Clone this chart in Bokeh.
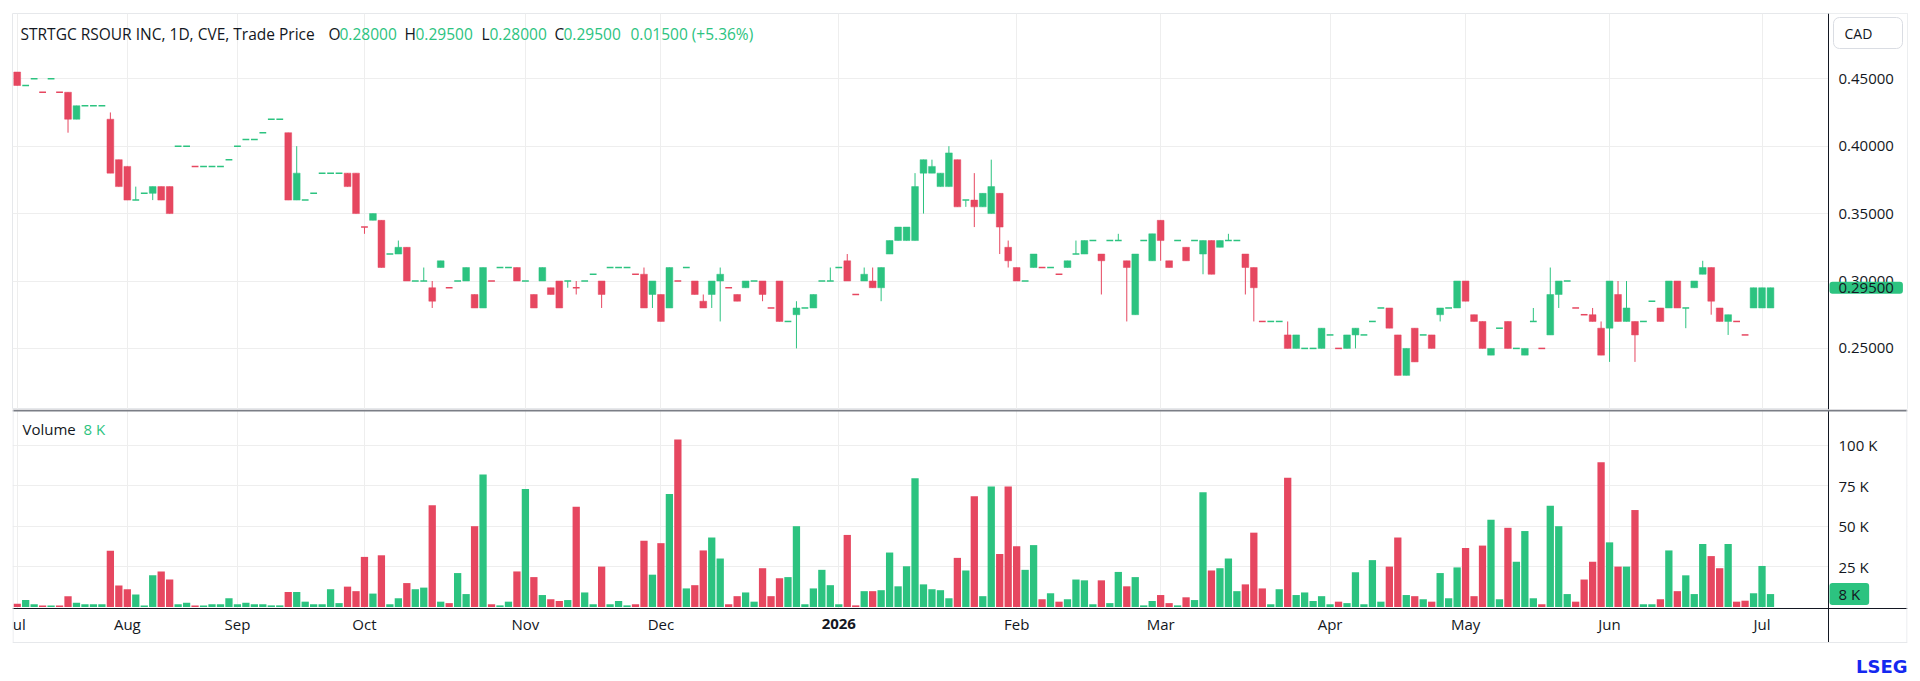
from bokeh.plotting import figure
from bokeh.layouts import column
from bokeh.models import (ColumnDataSource, FixedTicker, NumeralTickFormatter, Label,
                          Range1d, BoxAnnotation, LinearAxis)
from bokeh.embed import file_html
from bokeh.resources import INLINE

# ---------------- data ----------------
opens = [0.455, 0.445, 0.45, 0.44, 0.45, 0.44, 0.44, 0.42, 0.43, 0.43,
         0.43, 0.42, 0.39, 0.385, 0.36, 0.365, 0.365, 0.37, 0.37, 0.40,
         0.40, 0.385, 0.385, 0.385, 0.385, 0.39, 0.40, 0.405, 0.405, 0.41,
         0.42, 0.42, 0.41, 0.36, 0.36, 0.365, 0.38, 0.38, 0.38, 0.38,
         0.38, 0.34, 0.345, 0.345, 0.32, 0.32, 0.325, 0.30, 0.30, 0.295,
         0.31, 0.295, 0.30, 0.30, 0.29, 0.28, 0.30, 0.31, 0.31, 0.31,
         0.30, 0.29, 0.30, 0.295, 0.30, 0.30, 0.295, 0.30, 0.305, 0.30,
         0.31, 0.31, 0.31, 0.305, 0.305, 0.29, 0.29, 0.28, 0.30, 0.31,
         0.30, 0.285, 0.29, 0.30, 0.295, 0.29, 0.295, 0.30, 0.30, 0.28,
         0.30, 0.27, 0.275, 0.28, 0.28, 0.30, 0.30, 0.31, 0.315, 0.29,
         0.30, 0.30, 0.295, 0.32, 0.33, 0.33, 0.33, 0.38, 0.38, 0.37,
         0.37, 0.39, 0.36, 0.36, 0.355, 0.35, 0.365, 0.325, 0.31, 0.30,
         0.31, 0.31, 0.31, 0.305, 0.31, 0.32, 0.32, 0.33, 0.32, 0.33,
         0.33, 0.315, 0.275, 0.33, 0.315, 0.345, 0.315, 0.33, 0.325, 0.33,
         0.32, 0.33, 0.325, 0.33, 0.33, 0.32, 0.31, 0.27, 0.27, 0.27,
         0.26, 0.25, 0.25, 0.25, 0.25, 0.26, 0.25, 0.25, 0.26, 0.26,
         0.27, 0.28, 0.28, 0.26, 0.23, 0.265, 0.26, 0.26, 0.275, 0.28,
         0.28, 0.30, 0.275, 0.27, 0.245, 0.265, 0.27, 0.25, 0.245, 0.27,
         0.25, 0.26, 0.29, 0.30, 0.28, 0.275, 0.275, 0.265, 0.265, 0.29,
         0.27, 0.27, 0.27, 0.285, 0.28, 0.28, 0.30, 0.28, 0.295, 0.305,
         0.31, 0.28, 0.27, 0.27, 0.26, 0.28, 0.28, 0.28]

highs = [0.455, 0.445, 0.45, 0.44, 0.45, 0.44, 0.44, 0.43, 0.43, 0.43,
         0.43, 0.425, 0.39, 0.385, 0.37, 0.365, 0.37, 0.37, 0.37, 0.40,
         0.40, 0.385, 0.385, 0.385, 0.385, 0.39, 0.40, 0.405, 0.405, 0.41,
         0.42, 0.42, 0.41, 0.40, 0.36, 0.365, 0.38, 0.38, 0.38, 0.38,
         0.38, 0.34, 0.35, 0.345, 0.32, 0.33, 0.325, 0.30, 0.31, 0.30,
         0.315, 0.295, 0.30, 0.31, 0.29, 0.31, 0.30, 0.31, 0.31, 0.31,
         0.30, 0.29, 0.31, 0.295, 0.30, 0.30, 0.30, 0.30, 0.305, 0.30,
         0.31, 0.31, 0.31, 0.305, 0.31, 0.30, 0.29, 0.31, 0.30, 0.31,
         0.30, 0.29, 0.30, 0.31, 0.295, 0.29, 0.30, 0.30, 0.30, 0.28,
         0.30, 0.27, 0.285, 0.28, 0.29, 0.30, 0.31, 0.31, 0.32, 0.29,
         0.31, 0.31, 0.31, 0.33, 0.34, 0.34, 0.38, 0.39, 0.39, 0.38,
         0.40, 0.39, 0.36, 0.38, 0.365, 0.39, 0.365, 0.33, 0.31, 0.30,
         0.32, 0.31, 0.31, 0.305, 0.315, 0.33, 0.33, 0.33, 0.32, 0.33,
         0.335, 0.315, 0.32, 0.33, 0.335, 0.345, 0.315, 0.33, 0.325, 0.33,
         0.33, 0.33, 0.33, 0.335, 0.33, 0.32, 0.31, 0.27, 0.27, 0.27,
         0.27, 0.26, 0.25, 0.25, 0.265, 0.26, 0.25, 0.26, 0.265, 0.26,
         0.27, 0.28, 0.28, 0.26, 0.25, 0.265, 0.26, 0.26, 0.28, 0.28,
         0.30, 0.30, 0.275, 0.27, 0.25, 0.265, 0.27, 0.25, 0.25, 0.28,
         0.25, 0.31, 0.30, 0.30, 0.28, 0.275, 0.28, 0.27, 0.30, 0.30,
         0.30, 0.27, 0.27, 0.285, 0.28, 0.30, 0.30, 0.28, 0.30, 0.315,
         0.31, 0.28, 0.275, 0.27, 0.26, 0.295, 0.295, 0.295]

lows = [0.445, 0.445, 0.45, 0.44, 0.45, 0.44, 0.41, 0.42, 0.43, 0.43,
        0.43, 0.38, 0.37, 0.36, 0.36, 0.365, 0.36, 0.36, 0.35, 0.40,
        0.40, 0.385, 0.385, 0.385, 0.385, 0.39, 0.40, 0.405, 0.405, 0.41,
        0.42, 0.42, 0.36, 0.36, 0.36, 0.365, 0.38, 0.38, 0.38, 0.37,
        0.35, 0.335, 0.345, 0.31, 0.32, 0.32, 0.30, 0.30, 0.30, 0.28,
        0.31, 0.295, 0.30, 0.30, 0.28, 0.28, 0.30, 0.31, 0.31, 0.30,
        0.30, 0.28, 0.30, 0.29, 0.28, 0.295, 0.29, 0.30, 0.305, 0.28,
        0.31, 0.31, 0.31, 0.305, 0.28, 0.28, 0.27, 0.28, 0.30, 0.31,
        0.29, 0.28, 0.28, 0.27, 0.295, 0.285, 0.295, 0.30, 0.285, 0.28,
        0.27, 0.27, 0.25, 0.28, 0.28, 0.30, 0.30, 0.31, 0.30, 0.29,
        0.30, 0.295, 0.285, 0.32, 0.33, 0.33, 0.33, 0.35, 0.38, 0.37,
        0.37, 0.355, 0.355, 0.34, 0.355, 0.35, 0.32, 0.31, 0.30, 0.30,
        0.31, 0.31, 0.31, 0.305, 0.31, 0.32, 0.32, 0.33, 0.29, 0.33,
        0.33, 0.27, 0.275, 0.33, 0.315, 0.315, 0.31, 0.33, 0.315, 0.33,
        0.305, 0.305, 0.325, 0.33, 0.33, 0.29, 0.27, 0.27, 0.27, 0.27,
        0.25, 0.25, 0.25, 0.25, 0.25, 0.26, 0.25, 0.25, 0.25, 0.26,
        0.27, 0.28, 0.265, 0.23, 0.23, 0.24, 0.26, 0.25, 0.27, 0.28,
        0.28, 0.285, 0.27, 0.25, 0.245, 0.265, 0.25, 0.25, 0.245, 0.27,
        0.25, 0.26, 0.28, 0.30, 0.28, 0.275, 0.27, 0.245, 0.24, 0.27,
        0.27, 0.24, 0.27, 0.285, 0.27, 0.28, 0.28, 0.265, 0.295, 0.305,
        0.275, 0.27, 0.26, 0.27, 0.26, 0.28, 0.28, 0.28]

closes = [0.445, 0.445, 0.45, 0.44, 0.45, 0.44, 0.42, 0.43, 0.43, 0.43,
          0.43, 0.38, 0.37, 0.36, 0.36, 0.365, 0.37, 0.36, 0.35, 0.40,
          0.40, 0.385, 0.385, 0.385, 0.385, 0.39, 0.40, 0.405, 0.405, 0.41,
          0.42, 0.42, 0.36, 0.38, 0.36, 0.365, 0.38, 0.38, 0.38, 0.37,
          0.35, 0.34, 0.35, 0.31, 0.32, 0.325, 0.30, 0.30, 0.30, 0.285,
          0.315, 0.295, 0.30, 0.31, 0.28, 0.31, 0.30, 0.31, 0.31, 0.30,
          0.30, 0.28, 0.31, 0.29, 0.28, 0.30, 0.295, 0.30, 0.305, 0.29,
          0.31, 0.31, 0.31, 0.305, 0.28, 0.30, 0.27, 0.31, 0.30, 0.31,
          0.29, 0.28, 0.30, 0.305, 0.295, 0.285, 0.30, 0.30, 0.29, 0.28,
          0.27, 0.27, 0.28, 0.28, 0.29, 0.30, 0.30, 0.31, 0.30, 0.29,
          0.305, 0.295, 0.31, 0.33, 0.34, 0.34, 0.37, 0.39, 0.385, 0.38,
          0.395, 0.355, 0.36, 0.355, 0.365, 0.37, 0.34, 0.315, 0.30, 0.30,
          0.32, 0.31, 0.31, 0.305, 0.315, 0.32, 0.33, 0.33, 0.315, 0.33,
          0.33, 0.31, 0.32, 0.33, 0.335, 0.33, 0.31, 0.33, 0.315, 0.33,
          0.33, 0.305, 0.33, 0.33, 0.33, 0.31, 0.295, 0.27, 0.27, 0.27,
          0.25, 0.26, 0.25, 0.25, 0.265, 0.26, 0.25, 0.26, 0.265, 0.26,
          0.27, 0.28, 0.265, 0.23, 0.25, 0.24, 0.26, 0.25, 0.28, 0.28,
          0.30, 0.285, 0.27, 0.25, 0.25, 0.265, 0.25, 0.25, 0.25, 0.27,
          0.25, 0.29, 0.30, 0.30, 0.28, 0.275, 0.27, 0.245, 0.30, 0.27,
          0.28, 0.26, 0.27, 0.285, 0.27, 0.30, 0.28, 0.28, 0.30, 0.31,
          0.285, 0.27, 0.275, 0.27, 0.26, 0.295, 0.295, 0.295]

volumes = [2000, 4300, 1700, 1000, 1000, 1000, 6700, 2600, 1700, 1700,
           1700, 34800, 13300, 11000, 7800, 1000, 19600, 22000, 17000, 1700,
           2600, 1000, 1000, 1700, 1700, 5400, 1700, 2600, 1700, 1700,
           1000, 1000, 9300, 9300, 3300, 1700, 1700, 11000, 2400, 12600,
           9800, 31000, 8300, 32000, 1700, 5400, 14800, 11000, 12000, 63000,
           3300, 2400, 21000, 8000, 50000, 82000, 1700, 1000, 3300, 22000,
           73000, 18500, 7400, 4800, 3700, 4300, 62000, 9000, 1700, 25000,
           1700, 3700, 1000, 1700, 41000, 20000, 39500, 70000, 103700, 11500,
           13500, 35000, 43000, 30000, 1700, 6700, 9000, 3300, 24000, 6700,
           17800, 18500, 50000, 1700, 11500, 23000, 13500, 1700, 44600, 1000,
           9800, 9800, 10400, 33700, 12800, 25200, 79600, 14000, 11000, 10400,
           5400, 30400, 22600, 68500, 6700, 74600, 32800, 74600, 37600, 23000,
           38300, 4800, 8500, 3300, 4800, 17000, 16500, 1700, 16500, 2400,
           21700, 12800, 18500, 1000, 3700, 7400, 2400, 1000, 6000, 4300,
           71000, 22600, 24000, 30000, 9800, 14000, 46000, 11500, 1700, 11000,
           80000, 7400, 9000, 3700, 6700, 1700, 3300, 2400, 21500, 1700,
           29000, 3300, 25000, 43000, 7400, 6700, 4800, 3300, 21000, 5400,
           24500, 36500, 6700, 38000, 54000, 4800, 49000, 28000, 47000, 5400,
           1700, 62600, 50000, 8000, 3300, 17000, 28000, 89500, 40000, 25000,
           25000, 60000, 1700, 1700, 4800, 35000, 9800, 19600, 8000, 39000,
           31500, 24000, 39000, 3300, 3900, 8500, 25400, 8000]

# G = up (green) bar, R = down (red) bar, as coloured in the reference
direction = list("RGGRGRRGGGGRRRGGGRRGGRGGGGGGGGGGRGGGGGGRRRGRGGRGGRGRGGRGRGGR"
                 "GRGRRGRGGRGGGRRGRGRGRRGGRRGGRRRGGGGGGGRRGRGGGGGGGGGRGRGGRRRG"
                 "GRGRGGGGRGGRGGGRRGRGGRGGGRRRGGRGGGGGRGGGGGRRGRGRGGGRRRGGRGGG"
                 "RGGGRRRRGRGRGGRGRGGGRRGRRGGG")

month_labels = ["Jul", "Aug", "Sep", "Oct", "Nov", "Dec", "2026",
                "Feb", "Mar", "Apr", "May", "Jun", "Jul"]
bars_per_month = [13, 13, 15, 19, 16, 21, 21, 17, 20, 16, 17, 18, 2]

price_ticks = [0.25, 0.30, 0.35, 0.40, 0.45]
volume_ticks = [25000, 50000, 75000, 100000]

title_name = "STRTGC RSOUR INC, 1D, CVE, Trade Price"
currency = "CAD"

# ---------------- styling / layout constants (page px) ----------------
GREEN = "#2cc380"
RED = "#e64760"
TEXT = "#131722"
GRID = "#eeeeee"
BORDER = "#e6e8eb"
FONT = "Open Sans"

W, H = 1920, 680
FRAME_L, FRAME_R = 12, 1907      # plotting frame (covers the axis strip too)
AXIS_X = 1828                    # right price/volume axis line
P_TOP, P_BOT = 13, 409           # price pane
P_HI, P_LO = 0.4984, 0.2047
V_ZERO, V_PX_25K = 606.5, 40.4   # volume scale: baseline and px per 25 K
V_AXIS, V_BORDER = 608, 642      # time axis line, bottom border
BAR0_PX, BAR_STEP = 16.7, 8.47   # first bar centre and bar spacing

x_start = (FRAME_L - BAR0_PX) / BAR_STEP
x_end = (FRAME_R - BAR0_PX) / BAR_STEP


def px_x(px):
    return x_start + (px - FRAME_L) / (FRAME_R - FRAME_L) * (x_end - x_start)


def py_price(py):
    return P_HI - (py - P_TOP) / (P_BOT - P_TOP) * (P_HI - P_LO)


def py_vol(py):
    return (V_ZERO - py) * 25000 / V_PX_25K


# ---------------- derived ----------------
n = len(opens)
xs = list(range(n))
colors = [GREEN if d == "G" else RED for d in direction]
month_starts = []
acc = 0
for cnt in bars_per_month:
    month_starts.append(acc)
    acc += cnt

body_idx = [i for i in xs if opens[i] != closes[i]]
flat_idx = [i for i in xs if opens[i] == closes[i]]
wick_idx = [i for i in xs if highs[i] > lows[i]]

body_src = ColumnDataSource(dict(
    x=[xs[i] for i in body_idx],
    top=[max(opens[i], closes[i]) for i in body_idx],
    bottom=[min(opens[i], closes[i]) for i in body_idx],
    color=[colors[i] for i in body_idx]))
flat_src = ColumnDataSource(dict(
    x0=[xs[i] - 0.4 for i in flat_idx],
    x1=[xs[i] + 0.4 for i in flat_idx],
    y=[closes[i] for i in flat_idx],
    color=[colors[i] for i in flat_idx]))
wick_src = ColumnDataSource(dict(
    x=[xs[i] for i in wick_idx],
    hi=[highs[i] for i in wick_idx],
    lo=[lows[i] for i in wick_idx],
    color=[colors[i] for i in wick_idx]))
vol_src = ColumnDataSource(dict(x=xs, v=volumes, color=colors))

xr = Range1d(x_start, x_end)


def style_axis(ax, standoff):
    ax.axis_line_color = TEXT
    ax.axis_line_width = 1
    ax.major_tick_line_color = None
    ax.minor_tick_line_color = None
    ax.major_tick_out = 0
    ax.major_tick_in = 0
    ax.minor_tick_out = 0
    ax.major_label_text_font = FONT
    ax.major_label_text_font_size = "15px"
    ax.major_label_text_color = TEXT
    ax.major_label_standoff = standoff


def box(fig, l, r, t, b, color, level="annotation"):
    fig.add_layout(BoxAnnotation(left=l, right=r, top=t, bottom=b,
                                 fill_color=color, fill_alpha=1,
                                 line_color=None, level=level))


# ---------------- price pane ----------------
p = figure(width=W, height=P_BOT, x_range=xr, y_range=Range1d(P_LO, P_HI),
           output_backend="svg", toolbar_location=None, x_axis_location=None,
           y_axis_location=None, min_border_left=FRAME_L,
           min_border_right=W - FRAME_R, min_border_top=P_TOP,
           min_border_bottom=0)
p.outline_line_color = BORDER
p.xgrid.ticker = FixedTicker(ticks=month_starts)
p.ygrid.ticker = FixedTicker(ticks=price_ticks)
p.grid.grid_line_color = GRID
# keep the axis strip free of grid lines
box(p, px_x(AXIS_X + 0.5), px_x(FRAME_R), P_HI, P_LO, "white", "underlay")

pa = LinearAxis(fixed_location=px_x(AXIS_X), ticker=FixedTicker(ticks=price_ticks),
                formatter=NumeralTickFormatter(format="0.00000"))
style_axis(pa, 10)
p.add_layout(pa, "right")

p.segment(x0="x", y0="lo", x1="x", y1="hi", line_color="color", line_width=1,
          source=wick_src)
p.vbar(x="x", width=0.8, top="top", bottom="bottom", fill_color="color",
       line_color="color", line_width=0.5, source=body_src)
p.segment(x0="x0", y0="y", x1="x1", y1="y", line_color="color", line_width=1.5,
          source=flat_src)

# ---------------- volume pane ----------------
V_HI, V_LO = py_vol(P_BOT), py_vol(H)
v = figure(width=W, height=H - P_BOT, x_range=xr, y_range=Range1d(V_LO, V_HI),
           output_backend="svg", toolbar_location=None, x_axis_location=None,
           y_axis_location=None, min_border_left=FRAME_L,
           min_border_right=W - FRAME_R, min_border_top=0, min_border_bottom=0)
v.outline_line_color = None
v.xgrid.ticker = FixedTicker(ticks=month_starts)
v.ygrid.ticker = FixedTicker(ticks=volume_ticks)
v.grid.grid_line_color = GRID
box(v, px_x(AXIS_X + 0.5), px_x(FRAME_R), V_HI, V_LO, "white", "underlay")
box(v, px_x(FRAME_L), px_x(FRAME_R), py_vol(V_AXIS), V_LO, "white", "underlay")

v.vbar(x="x", width=0.86, top="v", bottom=0, fill_color="color", line_color=None,
       source=vol_src)

va = LinearAxis(fixed_location=px_x(AXIS_X), ticker=FixedTicker(ticks=volume_ticks),
                major_label_overrides={t: f"{t // 1000} K" for t in volume_ticks})
style_axis(va, 10)
v.add_layout(va, "right")

xa = LinearAxis(fixed_location=py_vol(V_AXIS), ticker=FixedTicker(ticks=month_starts),
                major_label_overrides={s: ("" if lab.isdigit() else lab)
                                       for s, lab in zip(month_starts, month_labels)})
style_axis(xa, 5)
v.add_layout(xa, "below")

# year label in bold on the time axis
for s, lab in zip(month_starts, month_labels):
    if lab.isdigit():
        v.add_layout(Label(x=s, y=py_vol(623), text=lab, text_align="center",
                           text_baseline="middle", text_font=FONT,
                           text_font_size="15px", text_font_style="bold",
                           text_color=TEXT))

# pane divider, chart border, axis end
box(v, px_x(FRAME_L), px_x(FRAME_R), V_HI, py_vol(P_BOT + 2), "#7b7e86")
box(v, px_x(FRAME_L), px_x(FRAME_L + 1), V_HI, py_vol(V_BORDER), BORDER)
box(v, px_x(FRAME_R - 1), px_x(FRAME_R), V_HI, py_vol(V_BORDER), BORDER)
box(v, px_x(FRAME_L), px_x(FRAME_R), py_vol(V_BORDER - 0.5), py_vol(V_BORDER + 0.5),
    BORDER)
box(v, px_x(AXIS_X - 2), px_x(AXIS_X + 2), py_vol(V_BORDER + 0.6), V_LO, "white",
    "overlay")

# ---------------- texts ----------------
o, h, l, c = opens[-1], highs[-1], lows[-1], closes[-1]
chg = c - o
chg_pct = chg / o * 100
title_parts = [
    (20, title_name, TEXT), (328, "O", TEXT), (339, f"{o:.5f}", GREEN),
    (404, "H", TEXT), (415, f"{h:.5f}", GREEN), (481, "L", TEXT),
    (489, f"{l:.5f}", GREEN), (554, "C", TEXT), (563, f"{c:.5f}", GREEN),
    (630, f"{chg:.5f} ({chg_pct:+.2f}%)", GREEN),
]
for px, txt, col in title_parts:
    p.add_layout(Label(x=px_x(px), y=py_price(33), text=txt, text_align="left",
                       text_baseline="middle", text_font=FONT,
                       text_font_size="15.5px", text_color=col))

# currency box
p.add_layout(BoxAnnotation(left=px_x(1833), right=px_x(1902), top=py_price(17),
                           bottom=py_price(48), fill_color="white", fill_alpha=1,
                           line_color="#dadde3", line_alpha=1, line_width=1,
                           border_radius=6))
p.add_layout(Label(x=px_x(1844), y=py_price(32.6), text=currency,
                   text_align="left", text_baseline="middle", text_font=FONT,
                   text_font_size="14px", text_color=TEXT))

# last price tag (padding is horizontal, vertical)
p.add_layout(Label(x=px_x(AXIS_X + 1), y=c, text=f"{c:.5f}", text_align="left",
                   text_baseline="middle", text_font=FONT, text_font_size="15px",
                   text_color=TEXT, background_fill_color=GREEN,
                   background_fill_alpha=1, border_radius=3, padding=(9, 1)))

# volume legend and tag
last_vol = f"{round(volumes[-1] / 1000)} K"
v.add_layout(Label(x=px_x(22), y=py_vol(428.6), text="Volume", text_align="left",
                   text_baseline="middle", text_font=FONT, text_font_size="15px",
                   text_color=TEXT))
v.add_layout(Label(x=px_x(83), y=py_vol(428.6), text=last_vol, text_align="left",
                   text_baseline="middle", text_font=FONT, text_font_size="15px",
                   text_color=GREEN))
v.add_layout(Label(x=px_x(AXIS_X + 1), y=volumes[-1], text=last_vol,
                   text_align="left", text_baseline="middle", text_font=FONT,
                   text_font_size="15px", text_color=TEXT,
                   background_fill_color=GREEN, background_fill_alpha=1,
                   border_radius=3, padding=(9, 1)))

# brand mark
v.add_layout(Label(x=px_x(FRAME_R), y=py_vol(666), text="LSEG", text_align="right",
                   text_baseline="middle", text_font="DejaVu Sans",
                   text_font_size="18px", text_font_style="bold",
                   text_color="#1428f0"))

layout = column(p, v, spacing=0)
open("out.html", "w").write(file_html(layout, INLINE))
